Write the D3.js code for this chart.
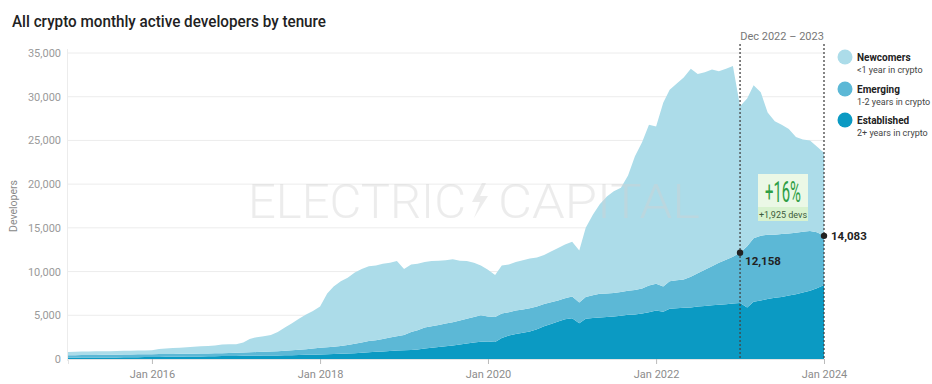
<!DOCTYPE html>
<html>
<head>
<meta charset="utf-8">
<script src="https://cdn.jsdelivr.net/npm/d3@7"></script>
<style>
  body { margin: 0; background: #fff; }
  text { font-family: Roboto, "Noto Sans", sans-serif; }
</style>
</head>
<body>
<div id="chart"></div>
<script>
// monthly values, Dec 2014 .. Dec 2023
var months = d3.timeMonth.range(new Date(2014, 11, 1), new Date(2024, 0, 1));

var established = [150,155,160,165,170,175,180,185,190,200,210,220,
  230,240,250,260,270,280,290,300,310,320,330,340,
  350,360,370,380,390,400,410,420,440,460,480,500,
  520,540,560,590,620,660,710,760,820,870,920,980,
  1000,1040,1100,1200,1300,1380,1450,1550,1650,1780,1900,1980,
  2000,1950,2400,2700,2850,3000,3150,3400,3750,4000,4300,4550,
  4650,4100,4600,4700,4750,4800,4850,4950,5050,5100,5200,5350,
  5550,5400,5750,5800,5850,5900,6000,6050,6150,6200,6250,6350,
  6400,5900,6550,6700,6850,7000,7100,7250,7400,7600,7800,8100,8450];

var emerging = [280,285,290,295,300,305,310,315,320,320,320,320,
  320,320,320,320,320,320,320,320,320,330,340,350,
  360,370,390,410,430,460,490,530,560,600,640,700,
  780,810,840,910,980,1090,1190,1290,1330,1430,1530,1620,
  1750,2060,2200,2400,2450,2520,2600,2650,2750,2820,2900,3020,
  2850,2850,2800,2650,2700,2650,2650,2600,2550,2500,2400,2400,
  2500,2350,2500,2600,2700,2700,2700,2700,2750,2800,2850,3050,
  3050,2900,3150,3200,3250,3500,3800,4150,4450,4800,5100,5350,
  5758,7000,7250,7400,7350,7200,7200,7100,7050,6950,6850,6400,5633];

var newcomers = [370,380,400,410,410,420,410,420,420,430,430,440,
  450,590,630,670,710,750,790,830,870,900,980,1010,
  990,1170,1540,1710,1780,1890,2200,2650,3100,3540,3980,4300,
  4700,6150,6900,7400,7700,8150,8400,8550,8550,8600,8550,8600,
  7550,7700,7600,7500,7450,7350,7250,7200,6850,6600,6200,5700,
  5350,4800,5500,5450,5550,5650,5700,5600,5600,5800,6000,6150,
  6250,5950,7900,9200,10250,11100,11650,11950,13200,15300,16750,18400,
  18000,21000,21900,22500,23100,23800,22800,22600,22500,21900,21850,21800,
  16742,16900,17500,16400,14000,13000,12500,11950,10950,10550,10350,9800,9517];

var seriesKeys = ["established", "emerging", "newcomers"];
var legendNames = ["Newcomers", "Emerging", "Established"];
var legendSubs = ["<1 year in crypto", "1-2 years in crypto", "2+ years in crypto"];
var colors = {newcomers: "#acdce9", emerging: "#5cb8d6", established: "#0b9ac3"};
var yTicks = [0, 5000, 10000, 15000, 20000, 25000, 30000, 35000];
var xTickYears = [2016, 2018, 2020, 2022, 2024];
var periodStart = new Date(2022, 11, 1), periodEnd = new Date(2023, 11, 1);
var pctLabel = "+16%", devsLabel = "+1,925 devs";

function drawChart() {
  var width = 932, height = 384;
  var plotLeft = 68, plotRight = 824, plotTop = 53, plotBottom = 359;

  var svg = d3.select("#chart").append("svg")
    .attr("width", width).attr("height", height);

  // rows for the stack, plotted at month end
  var rows = months.map(function(m, i) {
    return {date: d3.timeMonth.offset(m, 1), established: established[i], emerging: emerging[i], newcomers: newcomers[i]};
  });
  var stacked = d3.stack().keys(seriesKeys)(rows);

  var x = d3.scaleTime()
    .domain([rows[0].date, rows[rows.length - 1].date])
    .range([plotLeft, plotRight]);
  var y = d3.scaleLinear().domain([0, 35000]).range([plotBottom, plotTop]);

  // title
  svg.append("text").attr("x", 12).attr("y", 27)
    .attr("font-size", 16.5).attr("font-weight", 500).attr("fill", "#222")
    .attr("textLength", 314).attr("lengthAdjust", "spacingAndGlyphs")
    .text("All crypto monthly active developers by tenure");

  // grid
  svg.append("g").selectAll("line").data(yTicks.slice(1)).enter().append("line")
    .attr("x1", plotLeft).attr("x2", plotRight)
    .attr("y1", d => y(d)).attr("y2", d => y(d))
    .attr("stroke", "#ececec").attr("stroke-width", 1);
  svg.append("line").attr("x1", plotLeft - 0.5).attr("x2", plotLeft - 0.5)
    .attr("y1", plotTop - 4).attr("y2", plotBottom + 2)
    .attr("stroke", "#ececec");

  // y axis
  var yAxis = svg.append("g").attr("transform", "translate(" + plotLeft + ",0)")
    .call(d3.axisLeft(y).tickValues(yTicks).tickFormat(d3.format(",")).tickSize(0).tickPadding(7));
  yAxis.select(".domain").remove();
  yAxis.selectAll("text").attr("fill", "#9a9a9a").attr("font-size", 11)
    .style("font-family", "Roboto, sans-serif");

  svg.append("text")
    .attr("transform", "translate(17," + ((plotTop + plotBottom) / 2) + ") rotate(-90)")
    .attr("text-anchor", "middle").attr("font-size", 10.5).attr("fill", "#888")
    .text("Developers");

  // areas
  var area = d3.area()
    .x(d => x(d.data.date))
    .y0(d => y(d[0]))
    .y1(d => y(d[1]));
  svg.append("g").selectAll("path").data(stacked).enter().append("path")
    .attr("d", area)
    .attr("fill", d => colors[d.key]);

  // x axis
  var xAxis = svg.append("g").attr("transform", "translate(0," + plotBottom + ")")
    .call(d3.axisBottom(x)
      .tickValues(xTickYears.map(yr => new Date(yr, 0, 1)))
      .tickFormat(d3.timeFormat("%b %Y")).tickSize(5).tickPadding(6));
  xAxis.select(".domain").attr("stroke", "#e4e4e4");
  xAxis.selectAll(".tick line").attr("stroke", "#bbb");
  xAxis.selectAll("text").attr("fill", "#8c8c8c").attr("font-size", 11)
    .style("font-family", "Roboto, sans-serif");

  // watermark
  var wm = svg.append("g").attr("fill", "#d2d2d2").attr("opacity", 0.4);
  wm.append("text").attr("x", 248).attr("y", 218)
    .attr("font-size", 48).attr("font-weight", 300)
    .attr("textLength", 218).attr("lengthAdjust", "spacingAndGlyphs")
    .text("ELECTRIC");
  wm.append("text").attr("x", 498).attr("y", 218)
    .attr("font-size", 48).attr("font-weight", 300)
    .attr("textLength", 202).attr("lengthAdjust", "spacingAndGlyphs")
    .text("CAPITAL");
  wm.append("path").attr("d", "M482,183 L472,202 L480,202 L474,218 L488,196 L480,196 L486,183 Z");

  // period lines
  var endIdx = months.length - 1;
  var startIdx = months.findIndex(m => +m === +periodStart);
  [periodStart, periodEnd].forEach(function(m) {
    var px = x(d3.timeMonth.offset(m, 1));
    svg.append("line").attr("x1", px).attr("x2", px)
      .attr("y1", 44).attr("y2", plotBottom + 1)
      .attr("stroke", "#444").attr("stroke-width", 1.3).attr("stroke-dasharray", "2,2");
  });
  svg.append("text")
    .attr("x", (x(d3.timeMonth.offset(periodStart, 1)) + x(d3.timeMonth.offset(periodEnd, 1))) / 2)
    .attr("y", 40).attr("text-anchor", "middle")
    .attr("font-size", 11).attr("fill", "#777")
    .text("Dec 2022 \u2013 2023");

  // points at emerging+established
  [startIdx, endIdx].forEach(function(i, k) {
    var v = established[i] + emerging[i];
    var px = x(rows[i].date), py = y(v);
    svg.append("circle").attr("cx", px).attr("cy", py).attr("r", 3.2).attr("fill", "#222");
    svg.append("text").attr("x", px + (k === 0 ? 5 : 7)).attr("y", py + (k === 0 ? 12 : 4))
      .attr("font-size", 11.5).attr("font-weight", 700).attr("fill", "#222")
      .text(d3.format(",")(v));
  });

  // change box
  var bx = 758, by = 174;
  svg.append("rect").attr("x", bx).attr("y", by).attr("width", 50).attr("height", 47).attr("fill", "#ebf8e6");
  svg.append("rect").attr("x", bx).attr("y", by + 33).attr("width", 50).attr("height", 14).attr("fill", "#d8f2cf");
  svg.append("text").attr("x", bx + 25).attr("y", by + 28).attr("text-anchor", "middle")
    .attr("font-size", 29).attr("fill", "#2e9e45")
    .attr("textLength", 36).attr("lengthAdjust", "spacingAndGlyphs")
    .text(pctLabel);
  svg.append("text").attr("x", bx + 25).attr("y", by + 43.5).attr("text-anchor", "middle")
    .attr("font-size", 9).attr("fill", "#3c5a3c")
    .text(devsLabel);

  // legend
  var lg = svg.append("g").selectAll("g").data(legendNames).enter().append("g")
    .attr("transform", (d, i) => "translate(845," + [57, 89, 120][i] + ")");
  lg.append("circle").attr("r", 7.5)
    .attr("fill", (d, i) => colors[seriesKeys[2 - i]]);
  lg.append("text").attr("x", 12).attr("y", 3.5)
    .attr("font-size", 10).attr("font-weight", 700).attr("fill", "#222")
    .text(d => d);
  lg.append("text").attr("x", 12).attr("y", 16)
    .attr("font-size", 9).attr("fill", "#444")
    .text((d, i) => legendSubs[i]);
}
drawChart();
</script>
</body>
</html>
